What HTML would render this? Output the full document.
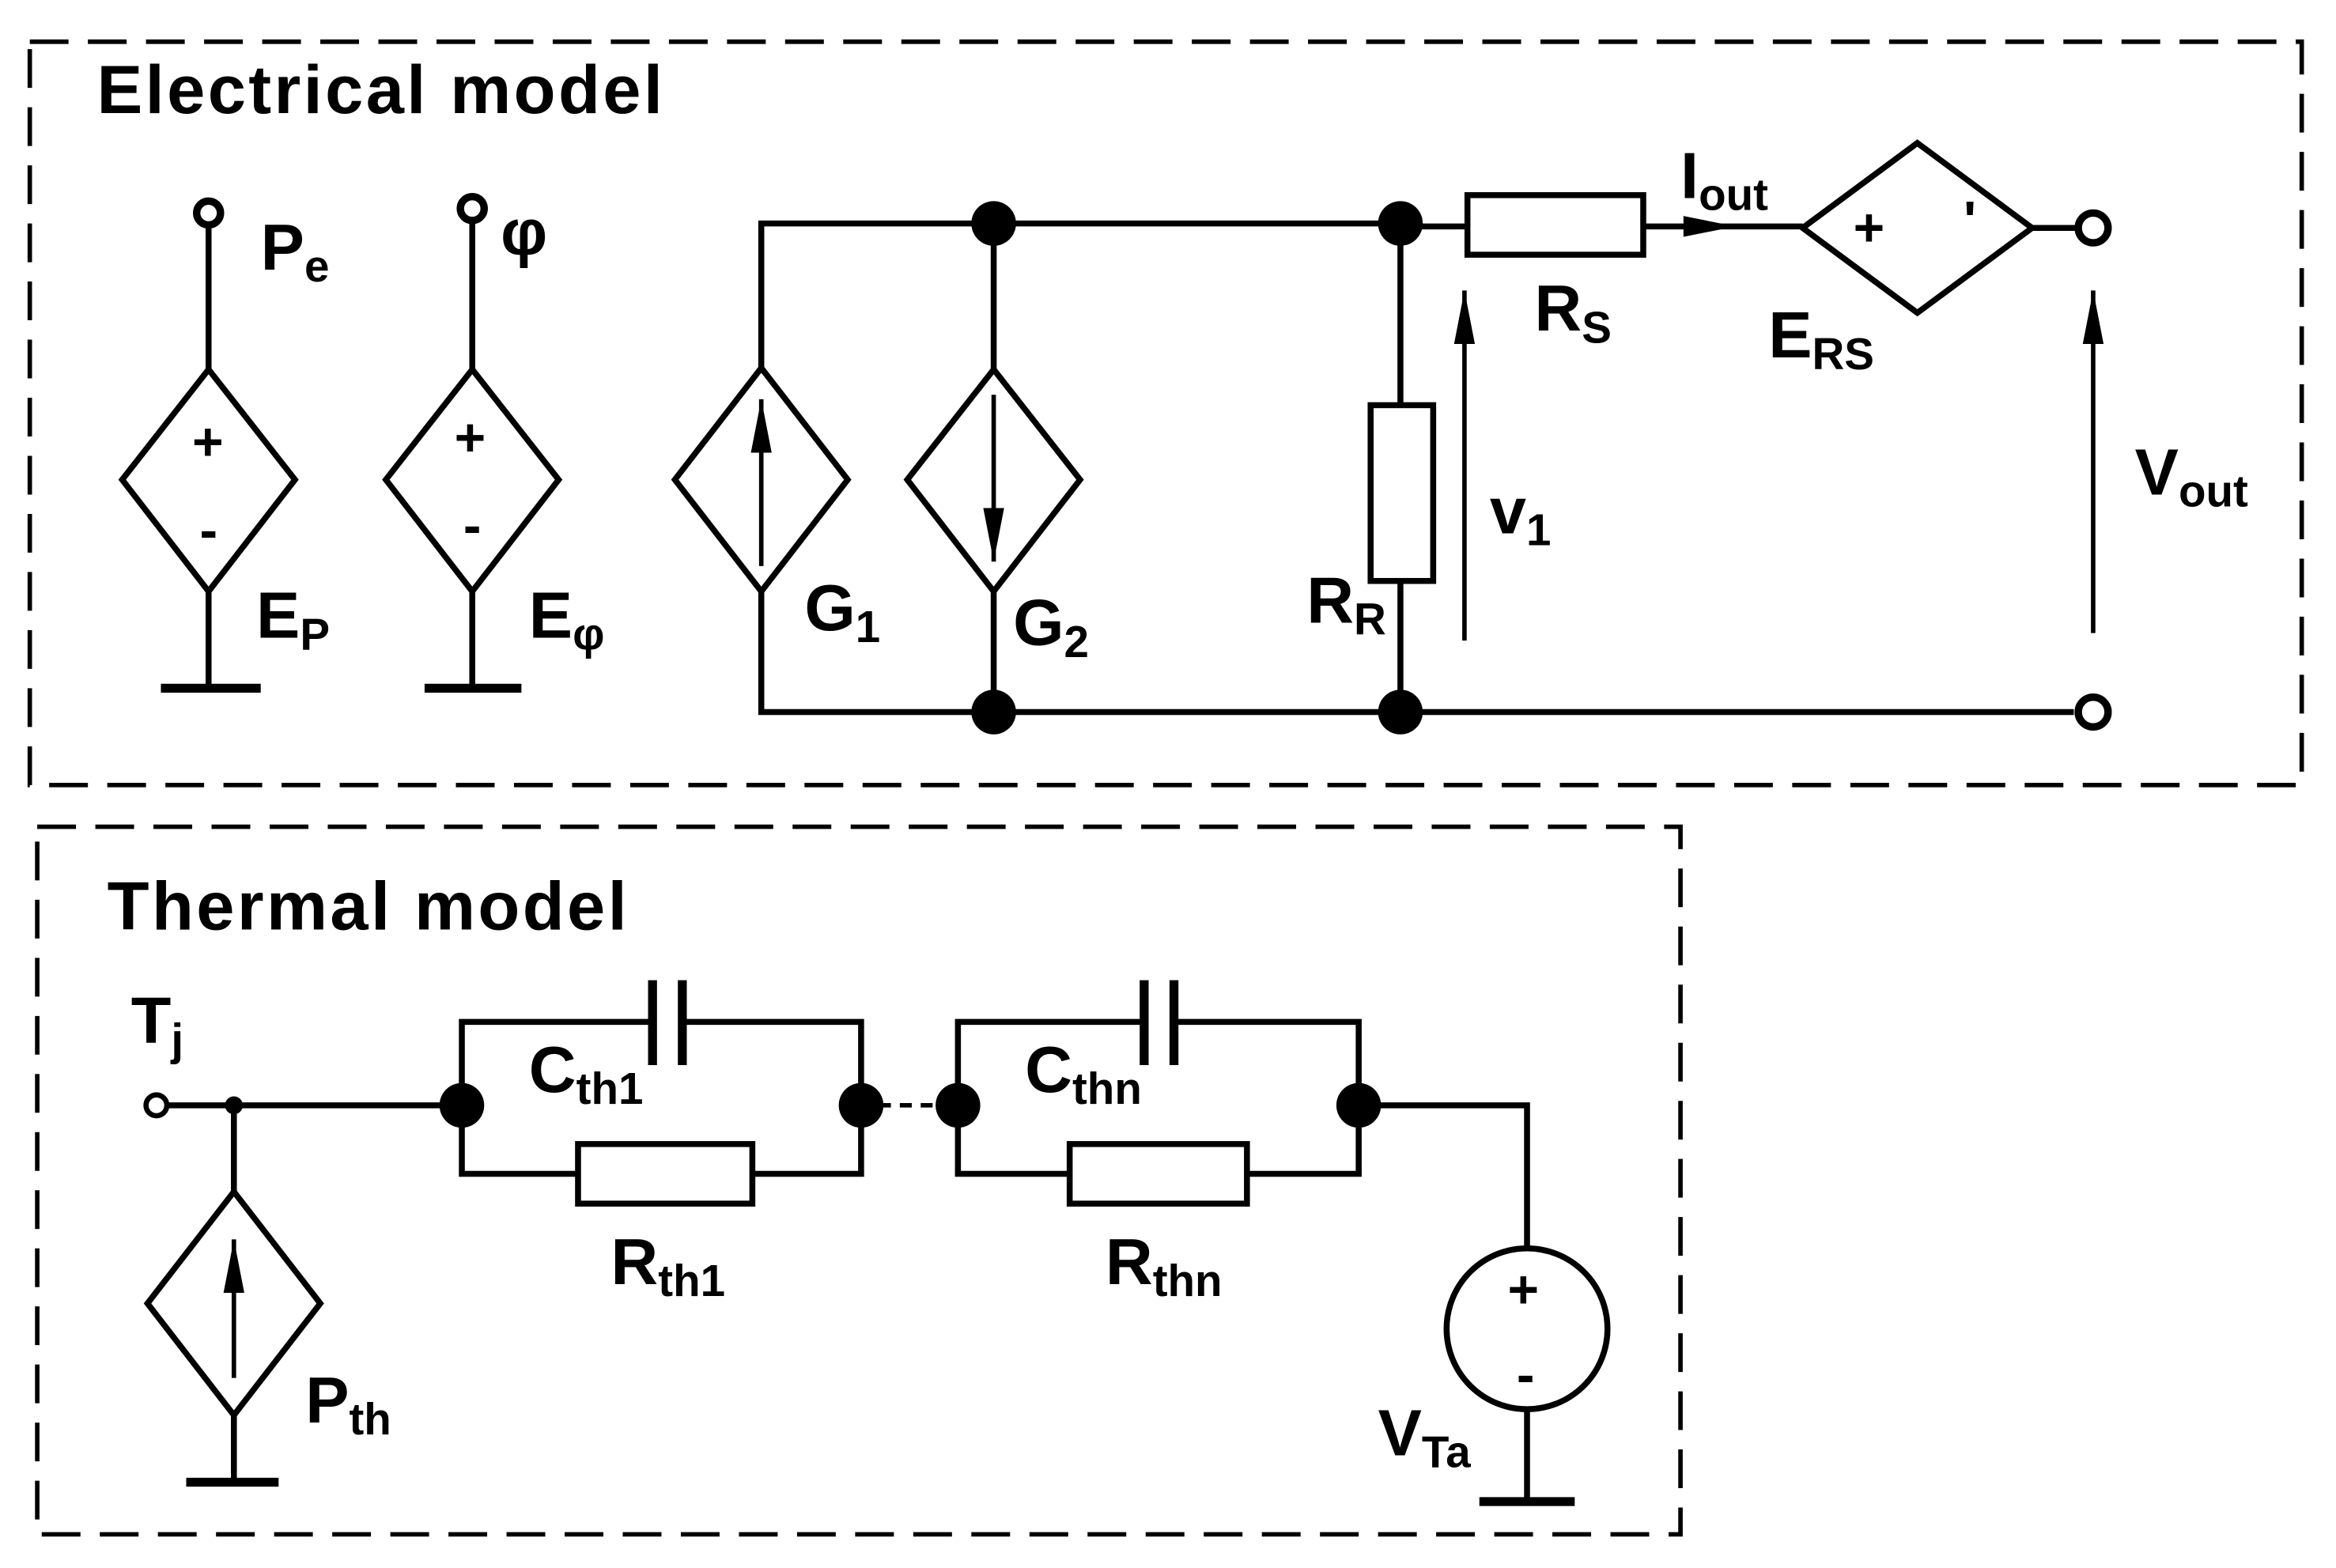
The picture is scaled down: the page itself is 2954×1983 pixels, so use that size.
<!DOCTYPE html>
<html><head><meta charset="utf-8"><style>html,body{margin:0;padding:0;background:#fff}svg{display:block}text{font-family:"Liberation Sans",sans-serif;font-weight:bold;fill:#000}</style></head>
<body>
<svg width="2954" height="1983" viewBox="0 0 1568 1052.6" preserveAspectRatio="none" xmlns="http://www.w3.org/2000/svg">
<defs>
<marker id="ab" viewBox="0 0 10 10" markerWidth="36" markerHeight="14" refX="10" refY="5" orient="auto" markerUnits="userSpaceOnUse" preserveAspectRatio="none"><path d="M0,0 L10,5 L0,10 z" fill="#000"/></marker></defs>
<g fill="none" stroke="#000" stroke-width="3">
<rect x="20" y="28" width="1525" height="499" stroke-dasharray="26,13"/>
<rect x="25" y="555" width="1103" height="475" stroke-dasharray="26,13"/>
</g>
<text x="65" y="76" font-size="46" letter-spacing="1.8">Electrical model</text>
<text x="72" y="624" font-size="46" letter-spacing="1.8">Thermal model</text>
<g fill="none" stroke="#000" stroke-width="4">
<circle cx="140" cy="143" r="8" stroke-width="5"/>
<line x1="140" y1="151" x2="140" y2="248"/>
<path d="M140,248 L198,322 L140,397 L82,322 Z"/>
<line x1="140" y1="397" x2="140" y2="462"/>
<line x1="108" y1="462" x2="175" y2="462" stroke-width="6"/>
<circle cx="317" cy="140" r="8" stroke-width="5"/>
<line x1="317" y1="148" x2="317" y2="248"/>
<path d="M317,248 L375,322 L317,397 L259,322 Z"/>
<line x1="317" y1="397" x2="317" y2="462"/>
<line x1="285" y1="462" x2="350" y2="462" stroke-width="6"/>
<polyline points="511,247 511,150 940,150"/>
<polyline points="511,397 511,478 1392,478"/>
<path d="M511,247 L569,322 L511,397 L453,322 Z"/>
<line x1="667" y1="150" x2="667" y2="248"/>
<path d="M667,248 L725,322 L667,397 L609,322 Z"/>
<line x1="667" y1="397" x2="667" y2="478"/>
<line x1="511" y1="380" x2="511" y2="268" marker-end="url(#ab)" stroke-width="3"/>
<line x1="667" y1="265" x2="667" y2="377" marker-end="url(#ab)" stroke-width="3"/>
<line x1="940" y1="150" x2="940" y2="272"/>
<rect x="920" y="272" width="42" height="118"/>
<line x1="940" y1="390" x2="940" y2="478"/>
<line x1="983" y1="430" x2="983" y2="195" marker-end="url(#ab)" stroke-width="3"/>
<line x1="940" y1="152" x2="985" y2="152"/>
<rect x="985" y="131" width="118" height="40"/>
<line x1="1103" y1="152" x2="1210" y2="152"/>
<path d="M1130,145 L1165,152 L1130,159 Z" fill="#000" stroke="none"/>
<path d="M1287,96 L1364,153 L1287,210 L1210,153 Z"/>
<line x1="1364" y1="153" x2="1395" y2="153"/>
<circle cx="1405" cy="153" r="10" stroke-width="5"/>
<circle cx="1405" cy="478" r="10" stroke-width="5"/>
<line x1="1405" y1="425" x2="1405" y2="195" marker-end="url(#ab)" stroke-width="3"/>
</g>
<g fill="#000">
<circle cx="667" cy="150" r="15"/><circle cx="940" cy="150" r="15"/>
<circle cx="667" cy="478" r="15"/><circle cx="940" cy="478" r="15"/>
</g>
<g font-size="36">
<text x="129" y="309">+</text><text x="134" y="368">-</text>
<text x="305" y="306">+</text><text x="311" y="365">-</text>
<text x="1244" y="165">+</text><text x="1318" y="160">'</text>
</g>
<g font-size="44">
<text x="175" y="181">P<tspan font-size="30" dy="8">e</tspan></text>
<text x="336" y="171">φ</text>
<text x="172" y="428">E<tspan font-size="30" dy="8">P</tspan></text>
<text x="355" y="428">E<tspan font-size="30" dy="8">φ</tspan></text>
<text x="540" y="423">G<tspan font-size="30" dy="8">1</tspan></text>
<text x="680" y="433">G<tspan font-size="30" dy="8">2</tspan></text>
<text x="877" y="418">R<tspan font-size="30" dy="8">R</tspan></text>
<text x="1000" y="358">v<tspan font-size="30" dy="8">1</tspan></text>
<text x="1030" y="222">R<tspan font-size="30" dy="8">S</tspan></text>
<text x="1128" y="133">I<tspan font-size="30" dy="8">out</tspan></text>
<text x="1187" y="240">E<tspan font-size="30" dy="8">RS</tspan></text>
<text x="1433" y="332">V<tspan font-size="30" dy="8">out</tspan></text>
</g>
<g fill="none" stroke="#000" stroke-width="4">
<circle cx="105" cy="742" r="7" stroke-width="3.5"/>
<line x1="112" y1="742" x2="310" y2="742"/>
<line x1="157" y1="742" x2="157" y2="800"/>
<path d="M157,800 L215,875 L157,950 L99,875 Z"/>
<line x1="157" y1="950" x2="157" y2="995"/>
<line x1="125" y1="995" x2="187" y2="995" stroke-width="6"/>
<line x1="157" y1="925" x2="157" y2="832" marker-end="url(#ab)" stroke-width="3"/>
<polyline points="310,742 310,686 438,686"/><polyline points="458,686 578,686 578,742"/>
<line x1="438" y1="658" x2="438" y2="715" stroke-width="6"/><line x1="458" y1="658" x2="458" y2="715" stroke-width="6"/>
<polyline points="310,742 310,788 388,788"/><polyline points="505,788 578,788 578,742"/>
<rect x="388" y="768" width="117" height="40"/>
<line x1="590" y1="742" x2="632" y2="742" stroke-dasharray="8,6" stroke-width="3"/>
<polyline points="643,742 643,686 768,686"/><polyline points="788,686 912,686 912,742"/>
<line x1="768" y1="658" x2="768" y2="715" stroke-width="6"/><line x1="788" y1="658" x2="788" y2="715" stroke-width="6"/>
<polyline points="643,742 643,788 718,788"/><polyline points="837,788 912,788 912,742"/>
<rect x="718" y="768" width="119" height="40"/>
<polyline points="912,742 1025,742 1025,838"/>
<circle cx="1025" cy="892" r="54"/>
<line x1="1025" y1="946" x2="1025" y2="1008"/>
<line x1="993" y1="1008" x2="1057" y2="1008" stroke-width="6"/>
</g>
<g fill="#000">
<circle cx="157" cy="742" r="6"/>
<circle cx="310" cy="742" r="15"/><circle cx="578" cy="742" r="15"/>
<circle cx="643" cy="742" r="15"/><circle cx="912" cy="742" r="15"/>
</g>
<g font-size="36"><text x="1012" y="878">+</text><text x="1018" y="935">-</text></g>
<g font-size="44">
<text x="88" y="700">T<tspan font-size="30" dy="8">j</tspan></text>
<text x="205" y="955">P<tspan font-size="30" dy="8">th</tspan></text>
<text x="355" y="733">C<tspan font-size="30" dy="8">th1</tspan></text>
<text x="410" y="862">R<tspan font-size="30" dy="8">th1</tspan></text>
<text x="688" y="733">C<tspan font-size="30" dy="8">thn</tspan></text>
<text x="742" y="862">R<tspan font-size="30" dy="8">thn</tspan></text>
<text x="925" y="977">V<tspan font-size="30" dy="8">Ta</tspan></text>
</g>
</svg>
</body></html>
